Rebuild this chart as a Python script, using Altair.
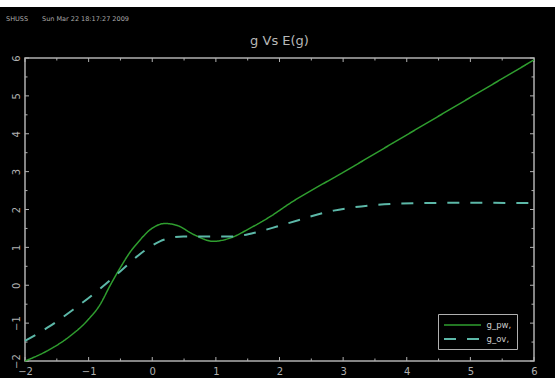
import altair as alt
import pandas as pd

# ---- data ----
pw_x = [-2.0, -1.66, -1.29, -1.03, -0.82, -0.66, -0.50, -0.35, -0.21, -0.03, 0.20, 0.39, 0.65, 0.96, 1.23, 1.54, 1.86, 2.17, 3.0, 4.0, 5.0, 6.0]
pw_y = [-2.0, -1.74, -1.34, -0.95, -0.51, 0.0, 0.47, 0.87, 1.16, 1.47, 1.63, 1.58, 1.34, 1.16, 1.25, 1.51, 1.82, 2.17, 2.98, 3.97, 4.96, 5.95]
ov_x = [-2.0, -1.61, -1.24, -0.87, -0.50, -0.14, 0.12, 0.49, 0.91, 1.28, 1.59, 1.96, 2.14, 2.85, 3.53, 4.26, 5.0, 5.73, 6.0]
ov_y = [-1.47, -1.08, -0.64, -0.16, 0.37, 0.89, 1.16, 1.29, 1.29, 1.29, 1.38, 1.55, 1.64, 1.97, 2.12, 2.17, 2.18, 2.17, 2.17]
series_names = ["g_pw,", "g_ov,"]
major_ticks = [-2, -1, 0, 1, 2, 3, 4, 5, 6]
minor_ticks = [-1.5, -0.5, 0.5, 1.5, 2.5, 3.5, 4.5, 5.5]
title_text = "g Vs E(g)"
header_user = "SHUSS"
header_date = "Sun Mar 22 18:17:27 2009"

df = pd.concat([
    pd.DataFrame({"x": pw_x, "y": pw_y, "series": series_names[0]}),
    pd.DataFrame({"x": ov_x, "y": ov_y, "series": series_names[1]}),
])
major_df = pd.DataFrame({"v": major_ticks})
minor_df = pd.DataFrame({"v": minor_ticks})
one = pd.DataFrame({"a": [0]})

W, H = 509, 303
PL, PT, PR, PB = 25, 58, 21, 17
GRAY = "#b0b0b0"
FONT = "DejaVu Sans"

xs = alt.Scale(domain=[-2, 6], nice=False, zero=False)
ys = alt.Scale(domain=[-2, 6], nice=False, zero=False)

xaxis = alt.Axis(title=None, values=major_ticks, domain=False, ticks=False, grid=False,
                 labelColor=GRAY, labelFont=FONT, labelFontSize=10, labelPadding=5,
                 labelFlush=False, labelOverlap=False, zindex=1)
yaxis = alt.Axis(title=None, values=major_ticks, domain=False, ticks=False, grid=False,
                 labelColor=GRAY, labelFont=FONT, labelFontSize=10, labelPadding=4,
                 labelAngle=270, labelAlign="center", labelBaseline="bottom",
                 labelFlush=False, labelOverlap=False, zindex=1)

bg = alt.Chart(one).mark_rect(color="black").encode(
    x=alt.value(-PL), x2=alt.value(W + PR), y=alt.value(-(PT - 7)), y2=alt.value(H + PB))

box = alt.Chart(one).mark_rect(fillOpacity=0, stroke=GRAY, strokeWidth=1.5).encode(
    x=alt.value(0), x2=alt.value(W), y=alt.value(0), y2=alt.value(H))


def tick_layers(d, L):
    out = []
    out.append(alt.Chart(d).mark_rule(color=GRAY, strokeWidth=1).encode(
        x=alt.X("v:Q", scale=xs, axis=xaxis), y=alt.value(H), y2=alt.value(H - L)))
    out.append(alt.Chart(d).mark_rule(color=GRAY, strokeWidth=1).encode(
        x=alt.X("v:Q", scale=xs, axis=xaxis), y=alt.value(0), y2=alt.value(L)))
    out.append(alt.Chart(d).mark_rule(color=GRAY, strokeWidth=1).encode(
        y=alt.Y("v:Q", scale=ys, axis=yaxis), x=alt.value(0), x2=alt.value(L)))
    out.append(alt.Chart(d).mark_rule(color=GRAY, strokeWidth=1).encode(
        y=alt.Y("v:Q", scale=ys, axis=yaxis), x=alt.value(W), x2=alt.value(W - L)))
    return out


lines = alt.Chart(df).mark_line(interpolate="monotone").encode(
    x=alt.X("x:Q", scale=xs, axis=xaxis),
    y=alt.Y("y:Q", scale=ys, axis=yaxis),
    color=alt.Color("series:N", scale=alt.Scale(domain=series_names, range=["#2f9e2f", "#5cb8a8"]),
                    legend=alt.Legend(title=None)),
    strokeDash=alt.StrokeDash("series:N", scale=alt.Scale(domain=series_names, range=[[1, 0], [12, 11]]),
                              legend=alt.Legend(title=None)),
    strokeWidth=alt.StrokeWidth("series:N", scale=alt.Scale(domain=series_names, range=[1.5, 2]), legend=None),
    order=alt.Order("x:Q"),
)

hdr1 = alt.Chart(one).mark_text(text=header_user, align="left", baseline="middle", fontSize=6.5,
                                font=FONT, color="#aaaaaa").encode(x=alt.value(6 - PL), y=alt.value(19 - PT))
hdr2 = alt.Chart(one).mark_text(text=header_date, align="left", baseline="middle", fontSize=6.5,
                                font=FONT, color="#aaaaaa").encode(x=alt.value(42 - PL), y=alt.value(19 - PT))
title_mark = alt.Chart(one).mark_text(text=title_text, align="center", baseline="alphabetic", fontSize=13,
                                      font=FONT, color="#b8b8b8").encode(x=alt.value(W / 2), y=alt.value(45 - PT))

chart = alt.layer(
    bg, box, *tick_layers(major_df, 4), *tick_layers(minor_df, 2.5), lines, hdr1, hdr2, title_mark
).properties(
    width=W, height=H,
    autosize=alt.AutoSizeParams(type="none"),
    padding={"left": PL, "top": PT, "right": PR, "bottom": PB},
    background="white",
).configure_view(
    stroke=None
).configure_legend(
    orient="none", legendX=413, legendY=256,
    strokeColor=GRAY, fillColor="black", padding=5,
    symbolType="M-3.7,0H3.7", symbolSize=100, symbolStrokeWidth=1.5, symbolOffset=13.5,
    labelFont=FONT, labelFontSize=8.5, labelColor="#cccccc", labelOffset=18,
    rowPadding=3, labelLimit=60,
)

chart.save("out.html", embed_options={"renderer": "svg", "actions": False})
